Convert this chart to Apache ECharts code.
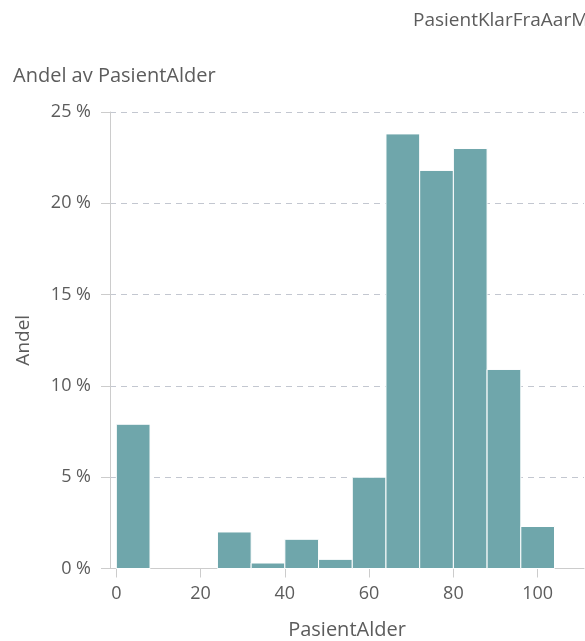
<!DOCTYPE html>
<html>
<head>
<meta charset="utf-8">
<script src="https://cdn.jsdelivr.net/npm/echarts@6/dist/echarts.min.js"></script>
<style>html,body{margin:0;padding:0;background:#fff}#c{width:585px;height:641px}</style>
</head>
<body>
<div id="c"></div>
<script>
const binStarts = [0, 8, 16, 24, 32, 40, 48, 56, 64, 72, 80, 88, 96];
const binWidth = 8;
const shares = [7.9, 0, 0, 2.0, 0.3, 1.6, 0.5, 5.0, 23.8, 21.8, 23.0, 10.9, 2.3];
const xTicks = [0, 20, 40, 60, 80, 100];
const yTicks = [0, 5, 10, 15, 20, 25];

const FONT = '"Open Sans", sans-serif';
const TXT = '#5c5c5c';
const data = binStarts.map((s, i) => [s, s + binWidth, shares[i]]);

const chart = echarts.init(document.getElementById('c'), null, {renderer: 'canvas'});
chart.setOption({
  animation: false,
  textStyle: {fontFamily: FONT},
  title: [
    {text: 'PasientKlarFraAarMnd', left: 408, top: 6,
     textStyle: {fontFamily: FONT, fontSize: 19, fontWeight: 'normal', color: TXT}},
    {text: 'Andel av PasientAlder', left: 8, top: 61,
     textStyle: {fontFamily: FONT, fontSize: 20, fontWeight: 'normal', color: TXT}}
  ],
  grid: {left: 110, top: 112, width: 474, height: 456.5, containLabel: false, outerBoundsMode: 'none'},
  xAxis: {
    type: 'value', min: -1.5, max: 111,
    interval: 20,
    name: 'PasientAlder', nameLocation: 'middle', nameGap: 52,
    nameTextStyle: {fontSize: 20, color: TXT, fontFamily: FONT},
    axisLine: {show: true, onZero: false, lineStyle: {color: '#ccc'}},
    axisTick: {show: true, length: 9, lineStyle: {color: '#ccc'}, customValues: xTicks},
    axisLabel: {color: TXT, fontSize: 18, margin: 16, customValues: xTicks, fontFamily: FONT},
    splitLine: {show: false}
  },
  yAxis: {
    type: 'value', min: 0, max: 25, interval: 5,
    name: 'Andel', nameLocation: 'middle', nameGap: 77, nameRotate: 90,
    nameTextStyle: {fontSize: 19, color: TXT, fontFamily: FONT},
    axisLine: {show: true, onZero: false, lineStyle: {color: '#ccc'}},
    axisTick: {show: true, length: 9, lineStyle: {color: '#ccc'}},
    axisLabel: {color: TXT, fontSize: 18, margin: 19, fontFamily: FONT,
      formatter: v => yTicks.includes(v) ? v + ' %' : ''},
    splitLine: {show: true, lineStyle: {color: '#c3c7d0', type: [6, 5], width: 1}}
  },
  series: [{
    type: 'custom',
    data: data,
    encode: {x: [0, 1], y: 2},
    renderItem: function (params, api) {
      const v = api.value(2);
      if (!v) return null;
      const p0 = api.coord([api.value(0), v]);
      const p1 = api.coord([api.value(1), 0]);
      return {
        type: 'rect',
        shape: {x: p0[0], y: p0[1], width: p1[0] - p0[0], height: p1[1] - p0[1]},
        style: {fill: '#6fa6ab', stroke: '#ffffff', lineWidth: 1}
      };
    }
  }]
});
</script>
</body>
</html>
